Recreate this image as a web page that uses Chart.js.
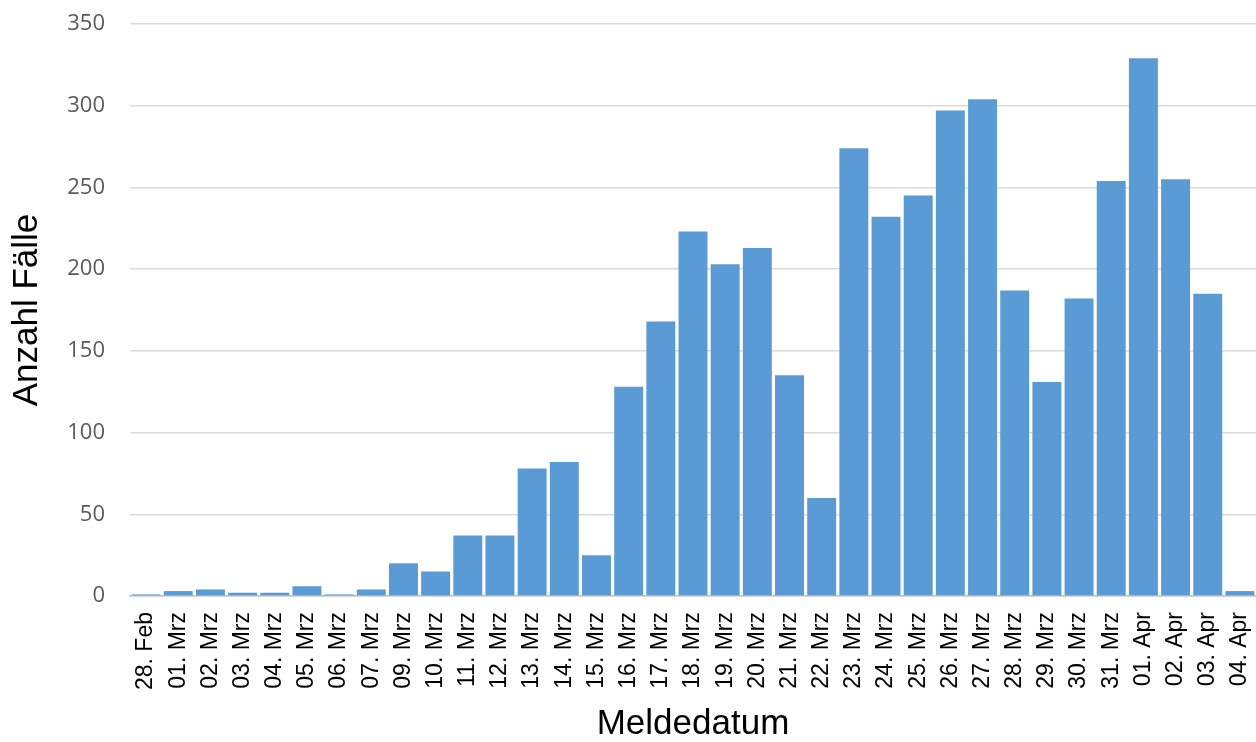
<!DOCTYPE html>
<html>
<head>
<meta charset="utf-8">
<script src="https://cdn.jsdelivr.net/npm/chart.js@4.4.1/dist/chart.umd.min.js"></script>
<style>
  html, body { margin: 0; padding: 0; background: #fff; }
  #wrap { width: 1256px; height: 742px; }
</style>
</head>
<body>
<div id="wrap"><canvas id="myChart"></canvas></div>
<script>
'use strict';

const labels = ['28. Feb', '01. Mrz', '02. Mrz', '03. Mrz', '04. Mrz', '05. Mrz', '06. Mrz', '07. Mrz',
  '09. Mrz', '10. Mrz', '11. Mrz', '12. Mrz', '13. Mrz', '14. Mrz', '15. Mrz', '16. Mrz', '17. Mrz',
  '18. Mrz', '19. Mrz', '20. Mrz', '21. Mrz', '22. Mrz', '23. Mrz', '24. Mrz', '25. Mrz', '26. Mrz',
  '27. Mrz', '28. Mrz', '29. Mrz', '30. Mrz', '31. Mrz', '01. Apr', '02. Apr', '03. Apr', '04. Apr'];

const cases = [1, 3, 4, 2, 2, 6, 1, 4,
  20, 15, 37, 37, 78, 82, 25, 128, 168,
  223, 203, 213, 135, 60, 274, 232, 245, 297,
  304, 187, 131, 182, 254, 329, 255, 185, 3];

const ctx = document.getElementById('myChart');

const config = {
  type: 'bar',
  data: {
    labels: labels,
    datasets: [
      {
        label: 'Anzahl Fälle',
        data: cases,
        backgroundColor: '#5b9bd5',
        borderWidth: 0,
        categoryPercentage: 1.0,
        barPercentage: 0.9
      }
    ]
  },
  options: {
    responsive: true,
    maintainAspectRatio: false,
    animation: false,
    layout: {
      padding: { top: 24, right: 0, left: 0, bottom: 0 }
    },
    plugins: {
      legend: { display: false },
      tooltip: { enabled: false }
    },
    scales: {
      x: {
        // fixed axis height so the plot bottom sits where the original has it
        afterFit: (scale) => {
          scale.height = 146;
          scale.paddingLeft = 0;
          scale.paddingRight = 0;
        },
        grid: { display: false },
        border: { display: true, color: '#bfbfbf', width: 1.5 },
        ticks: {
          color: '#000',
          font: { family: 'Liberation Sans', size: 23 },
          maxRotation: 90,
          minRotation: 90,
          autoSkip: false,
          padding: 8
        },
        title: {
          display: true,
          text: 'Meldedatum',
          color: '#000',
          font: { family: 'Liberation Sans', size: 35, lineHeight: 1 },
          padding: { top: 0, bottom: 0 }
        }
      },
      y: {
        afterFit: (scale) => {
          scale.width = 130;
          scale.paddingTop = 0;
          scale.paddingBottom = 0;
        },
        min: 0,
        max: 350,
        ticks: {
          stepSize: 50,
          color: '#595959',
          font: { family: 'Open Sans', size: 22 },
          padding: 25
        },
        grid: { color: '#d9d9d9', lineWidth: 1.5, drawTicks: false },
        border: { display: false },
        title: {
          display: true,
          text: 'Anzahl Fälle',
          color: '#000',
          font: { family: 'Liberation Sans', size: 35 },
          padding: { top: 6, bottom: 0 }
        }
      }
    }
  }
};

new Chart(ctx, config);
</script>
</body>
</html>
